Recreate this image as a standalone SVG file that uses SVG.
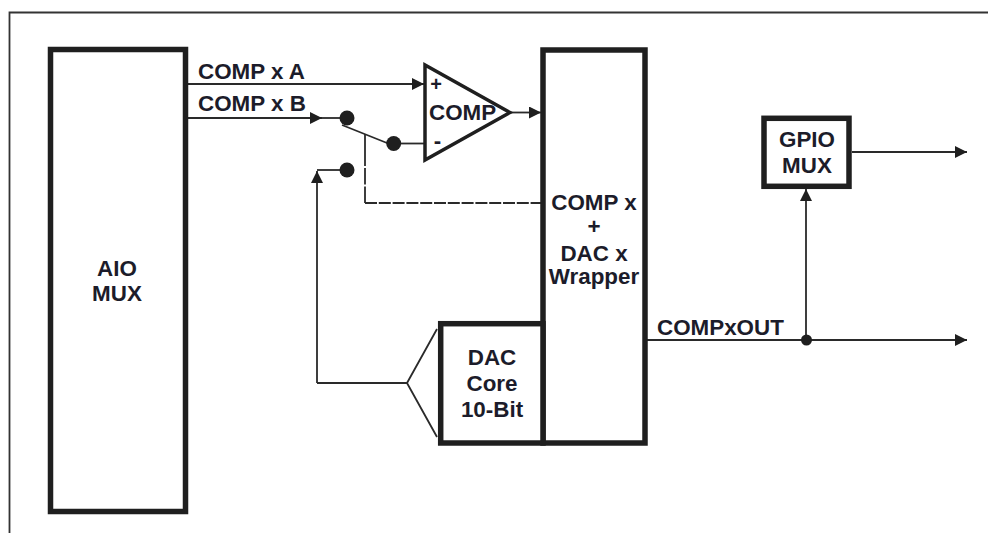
<svg xmlns="http://www.w3.org/2000/svg" width="988" height="533" viewBox="0 0 988 533">
<style>
.box{fill:#fff;stroke:#1f1f1f;stroke-width:5.5}
.l{fill:none;stroke:#2a2a2a;stroke-width:1.8}
.d{fill:#1f1f1f}
text{font-family:"Liberation Sans",Arial,sans-serif;font-weight:bold;font-size:22.4px;fill:#1c1c2a;text-anchor:middle}
.s{text-anchor:start}
.p{font-size:20px}
</style>
<defs>
<marker id="a" markerUnits="userSpaceOnUse" markerWidth="12" markerHeight="12" refX="12" refY="6" orient="auto"><path d="M0 0L12 6L0 12Z" fill="#1f1f1f"/></marker>
</defs>
<rect width="988" height="533" fill="#fff"/>
<path id="frame" d="M988 12.5H9.5V533" fill="none" stroke="#333" stroke-width="1.8"/>
<g id="connectors">
<path class="l" d="M187 84H424" marker-end="url(#a)"/>
<path class="l" d="M187 118H322" marker-end="url(#a)"/>
<path class="l" d="M322 118H347"/>
<path class="l" d="M342 125L387 143"/>
<path class="l" d="M394 143.500H425"/>
<path class="l" d="M347 170H317"/>
<path class="l" d="M317 383V171" marker-end="url(#a)"/>
<path class="l" d="M437 329L407 383H317M407 383L437 437"/>
<path class="l" d="M365 134V166"/>
<path class="l" d="M365 168V203" stroke-dasharray="16.500 2"/>
<path class="l" d="M365 203H541" stroke-dasharray="12 1.800"/>
<path class="l" d="M511 112.500H541" marker-end="url(#a)"/>
<path class="l" d="M852 152H967" marker-end="url(#a)"/>
<path class="l" d="M647 340H967" marker-end="url(#a)"/>
<path class="l" d="M806 340V189" marker-end="url(#a)"/>
<circle class="d" cx="347" cy="118" r="7.500"/>
<circle class="d" cx="393.700" cy="143.500" r="7.500"/>
<circle class="d" cx="347" cy="170" r="7.500"/>
<circle class="d" cx="806.500" cy="340" r="5.500"/>
<text class="s" x="198" y="79">COMP x A</text>
<text class="s" x="198" y="111">COMP x B</text>
<text class="s" x="657" y="335">COMPxOUT</text>
</g>
<g id="aio-mux">
<rect class="box" x="50.500" y="49.500" width="135" height="462"/>
<text x="117" y="276">AIO</text>
<text x="117" y="301">MUX</text>
</g>
<g id="comp">
<path d="M425 65V160L510 112.500Z" fill="#fff" stroke="#1f1f1f" stroke-width="3.500"/>
<text class="p" x="436" y="91">+</text>
<text class="s" x="429" y="120">COMP</text>
<text x="437.500" y="148">-</text>
</g>
<g id="wrapper">
<rect class="box" x="543" y="50" width="102" height="393"/>
<text x="594" y="210">COMP x</text>
<text x="594" y="234">+</text>
<text x="594" y="261">DAC x</text>
<text x="594" y="284">Wrapper</text>
</g>
<g id="dac-core">
<rect class="box" x="440.700" y="323.700" width="102.300" height="119.300"/>
<text x="492" y="365">DAC</text>
<text x="492" y="391">Core</text>
<text x="492" y="417">10-Bit</text>
</g>
<g id="gpio-mux">
<rect class="box" x="764" y="118.300" width="85" height="68"/>
<text x="807" y="147">GPIO</text>
<text x="807" y="173">MUX</text>
</g>
</svg>
